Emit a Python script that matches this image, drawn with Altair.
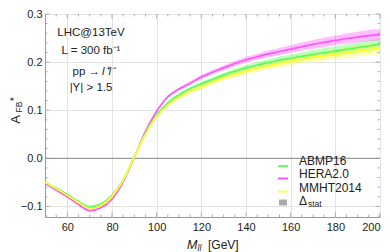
import altair as alt
import pandas as pd

# ---------------- data ----------------
mass = [50, 55, 60, 65, 70, 75, 80, 85, 90, 95, 100, 105, 110, 115, 120, 125,
        130, 135, 140, 145, 150, 155, 160, 165, 170, 175, 180, 185, 190, 195, 200]
abmp16 = [-0.049, -0.062, -0.075, -0.090, -0.101, -0.095, -0.077, -0.045, 0.003,
          0.052, 0.090, 0.115, 0.132, 0.145, 0.155, 0.164, 0.173, 0.181, 0.188,
          0.194, 0.199, 0.204, 0.208, 0.212, 0.216, 0.220, 0.223, 0.227, 0.230,
          0.234, 0.237]
hera20 = [-0.052, -0.066, -0.080, -0.096, -0.109, -0.103, -0.085, -0.049, 0.002,
          0.056, 0.098, 0.128, 0.144, 0.156, 0.169, 0.179, 0.188, 0.197, 0.205,
          0.211, 0.217, 0.222, 0.227, 0.232, 0.237, 0.241, 0.245, 0.249, 0.252,
          0.255, 0.257]
mmht2014 = [-0.050, -0.063, -0.077, -0.092, -0.104, -0.098, -0.079, -0.046, 0.003,
            0.050, 0.087, 0.111, 0.127, 0.139, 0.148, 0.158, 0.167, 0.174, 0.181,
            0.187, 0.192, 0.197, 0.202, 0.206, 0.210, 0.213, 0.216, 0.220, 0.223,
            0.226, 0.229]
stat_err = [0.001, 0.001, 0.001, 0.001, 0.001, 0.001, 0.001, 0.001, 0.001, 0.0015,
            0.002, 0.0025, 0.003, 0.0035, 0.004, 0.0045, 0.005, 0.0055, 0.006,
            0.0065, 0.007, 0.0075, 0.008, 0.0085, 0.009, 0.0095, 0.010, 0.0105,
            0.011, 0.0115, 0.012]

series_names = ["ABMP16", "HERA2.0", "MMHT2014"]
series_values = [abmp16, hera20, mmht2014]
line_colors = ["#18e818", "#ff22ff", "#eeee00"]
band_colors = ["#55ff55", "#ff55ff", "#ffff33"]
legend_colors = ["#66ff66", "#ff55ff", "#ffff55"]
draw_order = ["HERA2.0", "ABMP16", "MMHT2014"]

x_major = [60, 80, 100, 120, 140, 160, 180, 200]
x_minor = [55, 65, 70, 75, 85, 90, 95, 105, 110, 115, 125, 130, 135, 145, 150,
           155, 165, 170, 175, 185, 190, 195]
y_major = [-0.1, 0.0, 0.1, 0.2, 0.3]
y_minor = [-0.12, -0.08, -0.06, -0.04, -0.02, 0.02, 0.04, 0.06, 0.08, 0.12,
           0.14, 0.16, 0.18, 0.22, 0.24, 0.26, 0.28]

info_lines = ["LHC@13TeV", "L = 300 fb\u207b\u00b9", "pp \u2192", "l\u207al\u207b", "|Y| > 1.5"]

FONT = "Liberation Sans"
W, H = 335, 203

rows = []
for name, vals in zip(series_names, series_values):
    for m, v, e in zip(mass, vals, stat_err):
        rows.append({"M": m, "A": v, "lo": v - e, "hi": v + e, "pdf": name})
df = pd.DataFrame(rows)

xs = alt.Scale(domain=[50, 200], nice=False, zero=False)
ys = alt.Scale(domain=[-0.122, 0.3], nice=False, zero=False)
color_band = alt.Scale(domain=series_names, range=band_colors)
color_line = alt.Scale(domain=series_names, range=line_colors)

x_axis = alt.Axis(values=x_major, title=None, grid=True, gridColor="#e4e4e4",
                  ticks=False, domain=False, labelFont=FONT, labelFontSize=11,
                  labelColor="#222", labelPadding=4)
y_axis = alt.Axis(values=y_major, title=None, grid=True, gridColor="#e4e4e4",
                  ticks=False, domain=False, format=".1f", labelFont=FONT,
                  labelFontSize=11, labelColor="#222", labelPadding=3)

def X(field):
    return alt.X(field, scale=xs, axis=x_axis, title=None)

def Y(field):
    return alt.Y(field, scale=ys, axis=y_axis, title=None)

base = alt.Chart(df)

bands = base.mark_area(opacity=0.38, clip=True).encode(
    x=X("M:Q"), y=Y("lo:Q"), y2="hi:Q",
    color=alt.Color("pdf:N", scale=color_band, legend=None),
    detail="pdf:N",
)

zero_line = alt.Chart(pd.DataFrame({"y": [0.0]})).mark_rule(
    color="#8a8a8a", strokeWidth=1).encode(y=Y("y:Q"))

line_layers = []
for name in draw_order:
    line_layers.append(
        base.transform_filter(alt.datum.pdf == name).mark_line(
            strokeWidth=1.7, interpolate="monotone", clip=True).encode(
            x=X("M:Q"), y=Y("A:Q"),
            color=alt.Color("pdf:N", scale=color_line, legend=None),
        )
    )

tick_color = "#999999"
def xticks(vals, length):
    d = pd.DataFrame({"t": vals})
    b = alt.Chart(d).mark_rule(color=tick_color, strokeWidth=0.8)
    bottom = b.encode(x=X("t:Q"), y=alt.value(H), y2=alt.value(H - length))
    top = b.encode(x=X("t:Q"), y=alt.value(0), y2=alt.value(length))
    return [bottom, top]

def yticks(vals, length):
    d = pd.DataFrame({"t": vals})
    b = alt.Chart(d).mark_rule(color=tick_color, strokeWidth=0.8)
    left = b.encode(y=Y("t:Q"), x=alt.value(0), x2=alt.value(length))
    right = b.encode(y=Y("t:Q"), x=alt.value(W), x2=alt.value(W - length))
    return [left, right]

ticks = xticks(x_major, 4.5) + xticks(x_minor, 2.5) + yticks(y_major, 4.5) + yticks(y_minor, 2.5)

dummy = pd.DataFrame({"a": [0]})
def label(txt, px, py, size=11, align="center", style="normal", angle=0, color="#222"):
    kw = dict(text=txt, fontSize=size, align=align, baseline="middle", font=FONT,
              color=color, fontStyle=style)
    if angle:
        kw["angle"] = angle
    return alt.Chart(dummy).mark_text(**kw).encode(x=alt.value(px), y=alt.value(py))

texts = [
    label(info_lines[0], 46, 18.5, 11.5),
    label(info_lines[1], 46, 36.5, 11.5),
    label(info_lines[2], 55, 57.5, 11.5, align="right"),
    label(info_lines[3], 57, 57.5, 11.5, align="left", style="italic"),
    label(info_lines[4], 46, 73.5, 11.5),
    # y title
    label("A", -29.5, 105.5, 13, angle=270),
    label("FB", -26.5, 93, 8.5, angle=270),
    label("*", -30.5, 85, 11, angle=270),
    # x title
    label("M", 142, 231, 12.5, align="left", style="italic"),
    label("ll", 152.5, 234, 8.5, align="left", style="italic"),
    label("[GeV]", 163, 231, 12, align="left"),
]

# legend
leg_text_y = [146.5, 160, 173.5, 186.5]
leg_mark_y = [152, 164.5, 177.5, 188.5]
legend = []
for i, name in enumerate(series_names):
    legend.append(alt.Chart(dummy).mark_rule(color=legend_colors[i], strokeWidth=2).encode(
        x=alt.value(233), x2=alt.value(243), y=alt.value(leg_mark_y[i])))
    legend.append(label(name, 254, leg_text_y[i], 12, align="left"))
legend.append(alt.Chart(dummy).mark_rect(color="#aaaaaa").encode(
    x=alt.value(234), x2=alt.value(242), y=alt.value(leg_mark_y[3] - 3), y2=alt.value(leg_mark_y[3] + 3)))
legend.append(label("\u0394", 254, leg_text_y[3], 12, align="left"))
legend.append(label("stat", 263, leg_text_y[3] + 3, 8.5, align="left"))

chart = alt.layer(bands, zero_line, *line_layers, *ticks, *texts, *legend).properties(
    width=W, height=H,
    padding={"left": 37, "top": 6, "right": 2, "bottom": 35},
    autosize=alt.AutoSizeParams(type="none"),
).configure_view(stroke="#9a9a9a", strokeWidth=1)

chart.save("out.html", embed_options={"renderer": "svg", "actions": False})
